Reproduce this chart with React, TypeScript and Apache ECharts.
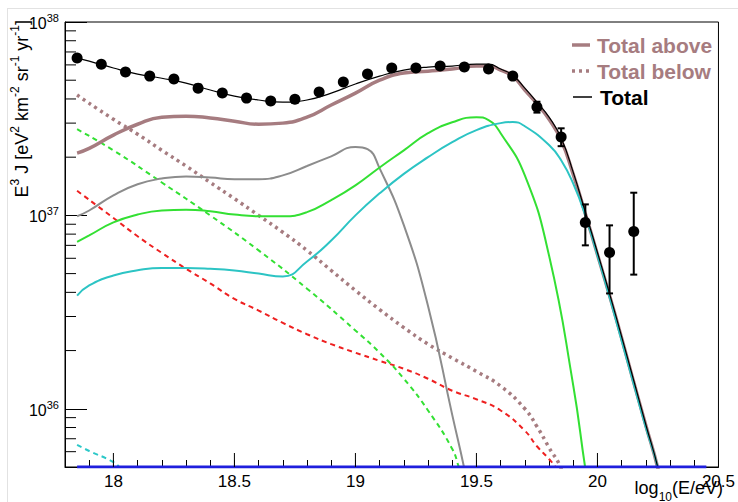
import React, { useEffect, useRef } from 'react';
import * as echarts from 'echarts';

const FONT = '"Liberation Sans", Arial, Helvetica, sans-serif';
const X_MIN = 17.8;
const X_MAX = 20.5;
const Y_MIN = 5e35;
const Y_MAX = 1e38;

const xMajorTicks = [18, 18.5, 19, 19.5, 20];
const yMinorTicks = [
  6e35, 7e35, 8e35, 9e35,
  2e36, 3e36, 4e36, 5e36, 6e36, 7e36, 8e36, 9e36,
  2e37, 3e37, 4e37, 5e37, 6e37, 7e37, 8e37, 9e37,
];

// measured points
const pointE = [17.85, 17.95, 18.05, 18.15, 18.25, 18.35, 18.45, 18.55, 18.65, 18.75, 18.85, 18.95,
  19.05, 19.15, 19.25, 19.35, 19.45, 19.55, 19.65, 19.75, 19.85, 19.95, 20.05, 20.15];
const pointFlux = [6.51e37, 6.05e37, 5.51e37, 5.25e37, 5.07e37, 4.55e37, 4.29e37, 4.04e37, 3.90e37, 3.99e37,
  4.34e37, 4.89e37, 5.38e37, 5.78e37, 5.78e37, 5.92e37, 5.85e37, 5.71e37, 5.25e37, 3.63e37, 2.54e37,
  9.2e36, 6.43e36, 8.26e36];
const errE = [19.75, 19.85, 19.95, 20.05, 20.15];
const errLow = [3.4e37, 2.28e37, 7.0e36, 3.95e36, 4.94e36];
const errHigh = [3.87e37, 2.82e37, 1.14e37, 8.88e36, 1.31e37];

// model curves [log10(E/eV), E^3 J]
const totalLine: [number, number][] = [
  [17.85, 6.51e37], [17.9, 6.28e37], [18.0, 5.78e37], [18.1, 5.38e37], [18.2, 5.12e37], [18.3, 4.83e37],
  [18.4, 4.45e37], [18.5, 4.14e37], [18.6, 3.95e37], [18.7, 3.85e37], [18.8, 3.95e37], [18.9, 4.29e37],
  [19.0, 4.78e37], [19.1, 5.25e37], [19.2, 5.64e37], [19.3, 5.85e37], [19.4, 5.92e37], [19.5, 6.05e37],
  [19.55, 6.05e37], [19.6, 5.71e37], [19.65, 5.31e37], [19.7, 4.55e37], [19.75, 3.85e37], [19.8, 3.22e37],
  [19.85, 2.51e37], [19.9, 1.67e37], [19.95, 1.04e37], [20.0, 6.43e36], [20.05, 3.94e36], [20.1, 2.36e36],
  [20.15, 1.40e36], [20.2, 8.27e35], [20.25, 4.94e35], [20.3, 2.5e35],
];
const totalAbove: [number, number][] = [
  [17.85, 2.10e37], [17.9, 2.22e37], [18.0, 2.60e37], [18.1, 2.96e37], [18.2, 3.22e37], [18.3, 3.26e37],
  [18.4, 3.19e37], [18.5, 3.07e37], [18.6, 2.96e37], [18.7, 3.0e37], [18.8, 3.22e37], [18.9, 3.72e37],
  [19.0, 4.29e37], [19.1, 5.0e37], [19.2, 5.45e37], [19.3, 5.57e37], [19.4, 5.71e37], [19.5, 5.92e37],
  [19.55, 5.92e37], [19.6, 5.64e37], [19.65, 5.25e37], [19.7, 4.45e37], [19.75, 3.78e37], [19.8, 3.14e37],
  [19.85, 2.45e37], [19.9, 1.63e37], [19.95, 1.02e37], [20.0, 6.28e36], [20.05, 3.85e36], [20.1, 2.32e36],
  [20.15, 1.37e36], [20.2, 8.2e35], [20.25, 4.9e35], [20.3, 2.5e35],
];
const totalBelow: [number, number][] = [
  [17.85, 4.19e37], [18.0, 3.14e37], [18.1, 2.63e37], [18.2, 2.17e37], [18.3, 1.8e37], [18.4, 1.48e37],
  [18.5, 1.22e37], [18.6, 1.0e37], [18.7, 8.18e36], [18.8, 6.59e36], [18.9, 5.19e36], [19.0, 4.09e36],
  [19.1, 3.26e36], [19.2, 2.63e36], [19.3, 2.16e36], [19.4, 1.83e36], [19.5, 1.56e36], [19.6, 1.31e36],
  [19.7, 1.0e36], [19.75, 8.1e35], [19.8, 6.3e35], [19.85, 4.9e35], [19.9, 3e35],
];
const grayLine: [number, number][] = [
  [17.85, 9.9e36], [17.9, 1.06e37], [18.0, 1.27e37], [18.1, 1.45e37], [18.2, 1.55e37], [18.3, 1.59e37],
  [18.4, 1.57e37], [18.5, 1.54e37], [18.6, 1.54e37], [18.7, 1.61e37], [18.8, 1.80e37], [18.9, 2.02e37],
  [19.0, 2.26e37], [19.05, 2.2e37], [19.1, 1.75e37], [19.2, 8.9e36], [19.3, 3.4e36], [19.4, 9.3e35],
  [19.45, 4.9e35], [19.5, 2.4e35],
];
const greenLine: [number, number][] = [
  [17.85, 7.3e36], [17.9, 7.88e36], [18.0, 9.2e36], [18.1, 1.01e37], [18.2, 1.06e37], [18.3, 1.07e37],
  [18.4, 1.05e37], [18.5, 1.01e37], [18.6, 9.9e36], [18.7, 9.9e36], [18.8, 1.04e37], [18.9, 1.2e37],
  [19.0, 1.43e37], [19.1, 1.77e37], [19.2, 2.17e37], [19.3, 2.66e37], [19.4, 3.03e37], [19.5, 3.22e37],
  [19.55, 3.11e37], [19.6, 2.66e37], [19.7, 1.61e37], [19.8, 6.2e36], [19.9, 1.32e36], [19.95, 4.9e35],
  [20.0, 2e35],
];
const cyanLine: [number, number][] = [
  [17.85, 3.85e36], [17.9, 4.34e36], [18.0, 4.89e36], [18.1, 5.2e36], [18.2, 5.35e36], [18.3, 5.35e36],
  [18.4, 5.3e36], [18.5, 5.19e36], [18.6, 5.0e36], [18.7, 4.83e36], [18.8, 5.78e36], [18.9, 7.42e36],
  [19.0, 1.0e37], [19.1, 1.3e37], [19.2, 1.64e37], [19.3, 2.0e37], [19.4, 2.39e37], [19.5, 2.76e37],
  [19.6, 3.0e37], [19.65, 3.04e37], [19.7, 2.89e37], [19.8, 2.31e37], [19.85, 1.93e37], [19.9, 1.46e37],
  [19.95, 1.0e37], [20.0, 6.21e36], [20.05, 3.78e36], [20.1, 2.25e36], [20.15, 1.34e36], [20.2, 8.0e35],
  [20.25, 4.94e35], [20.3, 2.5e35],
];
const redDashed: [number, number][] = [
  [17.85, 1.34e37], [18.0, 9.7e36], [18.1, 7.8e36], [18.2, 6.4e36], [18.3, 5.3e36], [18.4, 4.45e36],
  [18.5, 3.7e36], [18.6, 3.22e36], [18.7, 2.78e36], [18.8, 2.43e36], [18.9, 2.16e36], [19.0, 1.95e36],
  [19.1, 1.77e36], [19.2, 1.61e36], [19.3, 1.43e36], [19.4, 1.24e36], [19.5, 1.12e36], [19.6, 9.8e35],
  [19.7, 7.7e35], [19.75, 6.4e35], [19.8, 5.5e35], [19.83, 4.9e35], [19.86, 4e35],
];
const greenDashed: [number, number][] = [
  [17.85, 2.79e37], [18.0, 2.17e37], [18.2, 1.48e37], [18.4, 1.0e37], [18.6, 6.59e36], [18.8, 4.18e36],
  [19.0, 2.54e36], [19.1, 1.95e36], [19.2, 1.43e36], [19.3, 9.8e35], [19.4, 6.2e35], [19.43, 4.9e35],
  [19.46, 4e35],
];
const cyanDashed: [number, number][] = [
  [17.85, 6.5e35], [17.9, 6.05e35], [18.0, 5.3e35], [18.03, 4.9e35], [18.05, 4.5e35],
];
const blueLine: [number, number][] = [[17.85, 5e35], [20.45, 5e35]];

const BROWN = '#a67c80';

function lineSeries(name: string, data: [number, number][], color: string, width: number, type: any = 'solid', z = 2) {
  return {
    name,
    type: 'line',
    data,
    showSymbol: false,
    smooth: 0.5,
    silent: true,
    z,
    lineStyle: { color, width, type, cap: 'butt' },
  };
}

export default function App() {
  const ref = useRef<HTMLDivElement>(null);
  useEffect(() => {
    const chart = echarts.init(ref.current!, null, { renderer: 'svg' });
    const tickData: any[] = [
      ...xMajorTicks.map((x) => [x, Y_MIN, 0]),
      ...yMinorTicks.map((y) => [X_MIN, y, 1]),
    ];
    const option: any = {
      animation: false,
      backgroundColor: '#fff',
      grid: { left: 65, right: 18, top: 22, bottom: 35, show: true, borderColor: '#000', borderWidth: 1 },
      xAxis: {
        type: 'value', min: X_MIN, max: X_MAX, interval: 0.1,
        axisLine: { lineStyle: { color: '#000', width: 1 } },
        axisTick: { inside: true, length: 7, lineStyle: { color: '#000' } },
        splitLine: { show: false },
        axisLabel: {
          margin: 6, color: '#000', fontSize: 17, fontFamily: FONT, showMinLabel: true, showMaxLabel: true,
          formatter: (v: number) => (Math.abs(v * 2 - Math.round(v * 2)) < 1e-6 ? String(Math.round(v * 2) / 2) : ''),
        },
      },
      yAxis: {
        type: 'log', logBase: 10, min: Y_MIN, max: Y_MAX,
        axisLine: { lineStyle: { color: '#000', width: 1 } },
        axisTick: { inside: true, length: 22, lineStyle: { color: '#000' } },
        splitLine: { show: false },
        axisLabel: {
          margin: 6, color: '#000', fontFamily: FONT, showMinLabel: true, showMaxLabel: true,
          formatter: (v: number) => {
            const e = Math.log10(v);
            if (Math.abs(e - Math.round(e)) > 1e-6) return '';
            return '{b|10}{s|' + Math.round(e) + '}';
          },
          rich: {
            b: { fontSize: 16, fontFamily: FONT, color: '#000', lineHeight: 19, verticalAlign: 'bottom' },
            s: { fontSize: 11, fontFamily: FONT, color: '#000', lineHeight: 12, verticalAlign: 'top' },
          },
        },
      },
      series: [
        lineSeries('Total below', totalBelow, BROWN, 3.5, [3, 4]),
        lineSeries('red', redDashed, '#ee2020', 2, [5, 4]),
        lineSeries('greenDashed', greenDashed, '#33e033', 2, [5, 4]),
        lineSeries('cyanDashed', cyanDashed, '#2cc8c8', 2, [5, 4]),
        lineSeries('gray', grayLine, '#8c8c8c', 2),
        lineSeries('green', greenLine, '#33e033', 2),
        lineSeries('Total above', totalAbove, BROWN, 3.5),
        lineSeries('cyan', cyanLine, '#2cc4c4', 2),
        lineSeries('Total', totalLine, '#000', 1.2),
        lineSeries('blue', blueLine, '#1f1fdd', 3, 'solid', 4),
        {
          type: 'custom',
          silent: true,
          z: 5,
          data: errE.map((x, i) => [x, errLow[i], errHigh[i]]),
          encode: { x: 0, y: [1, 2] },
          renderItem: (_p: any, api: any) => {
            const x = api.value(0);
            const lo = api.coord([x, api.value(1)]);
            const hi = api.coord([x, api.value(2)]);
            const st = { stroke: '#000', lineWidth: 2 };
            return {
              type: 'group',
              children: [
                { type: 'line', shape: { x1: lo[0], y1: lo[1], x2: hi[0], y2: hi[1] }, style: st },
                { type: 'line', shape: { x1: lo[0] - 3.5, y1: lo[1], x2: lo[0] + 3.5, y2: lo[1] }, style: st },
                { type: 'line', shape: { x1: hi[0] - 3.5, y1: hi[1], x2: hi[0] + 3.5, y2: hi[1] }, style: st },
              ],
            };
          },
        },
        {
          type: 'scatter',
          silent: true,
          z: 6,
          symbol: 'circle',
          symbolSize: 11,
          itemStyle: { color: '#000', opacity: 1 },
          data: pointE.map((x, i) => [x, pointFlux[i]]),
        },
        {
          type: 'custom',
          silent: true,
          z: 7,
          clip: false,
          data: tickData,
          renderItem: (_p: any, api: any) => {
            const p = api.coord([api.value(0), api.value(1)]);
            const kind = api.value(2);
            const st = { stroke: '#000', lineWidth: 1 };
            if (kind === 0) {
              return { type: 'line', shape: { x1: p[0], y1: p[1], x2: p[0], y2: p[1] - 14 }, style: st };
            }
            return { type: 'line', shape: { x1: p[0], y1: p[1], x2: p[0] + 11, y2: p[1] }, style: st };
          },
        },
      ],
      graphic: [
        { type: 'line', silent: true, shape: { x1: 7, y1: 8.5, x2: 738, y2: 8.5 }, style: { stroke: '#e2e2e2', lineWidth: 1 } },
        { type: 'line', silent: true, shape: { x1: 7.5, y1: 8, x2: 7.5, y2: 502 }, style: { stroke: '#e2e2e2', lineWidth: 1 } },
        // legend
        { type: 'line', silent: true, shape: { x1: 572, y1: 45, x2: 590, y2: 45 }, style: { stroke: BROWN, lineWidth: 3.5 } },
        { type: 'text', silent: true, x: 597, y: 45, style: { text: 'Total above', fill: BROWN, font: 'bold 21px ' + FONT, verticalAlign: 'middle' } },
        { type: 'line', silent: true, shape: { x1: 572, y1: 71, x2: 590, y2: 71 }, style: { stroke: BROWN, lineWidth: 3.5, lineDash: [3, 4] } },
        { type: 'text', silent: true, x: 597, y: 71, style: { text: 'Total below', fill: BROWN, font: 'bold 21px ' + FONT, verticalAlign: 'middle' } },
        { type: 'line', silent: true, shape: { x1: 573, y1: 97, x2: 592, y2: 97 }, style: { stroke: '#000', lineWidth: 1.5 } },
        { type: 'text', silent: true, x: 600, y: 97, style: { text: 'Total', fill: '#000', font: 'bold 21px ' + FONT, verticalAlign: 'middle' } },
        // x axis title
        {
          type: 'text', silent: true, x: 723, y: 491,
          style: {
            text: '{m|log}{u|10}{m|(E/eV)}', align: 'right', verticalAlign: 'middle',
            rich: {
              m: { fontSize: 18, fontFamily: FONT, fill: '#000', lineHeight: 24, verticalAlign: 'top' },
              u: { fontSize: 12, fontFamily: FONT, fill: '#000', lineHeight: 12, verticalAlign: 'bottom' },
            },
          },
        },
        // y axis title
        {
          type: 'text', silent: true, x: 20, y: 20, rotation: Math.PI / 2,
          style: {
            text: '{m|E}{s|3}{m| J [eV}{s|2}{m| km}{s|-2}{m| sr}{s|-1}{m| yr}{s|-1}{m|]}',
            align: 'right', verticalAlign: 'middle',
            rich: {
              m: { fontSize: 18, fontFamily: FONT, fill: '#000', lineHeight: 22, verticalAlign: 'bottom' },
              s: { fontSize: 12, fontFamily: FONT, fill: '#000', lineHeight: 12, verticalAlign: 'top' },
            },
          },
        },
      ],
    };
    chart.setOption(option);
    return () => chart.dispose();
  }, []);
  return <div ref={ref} style={{ position: 'fixed', left: 0, top: 0, width: 738, height: 502, background: '#fff' }} />;
}
